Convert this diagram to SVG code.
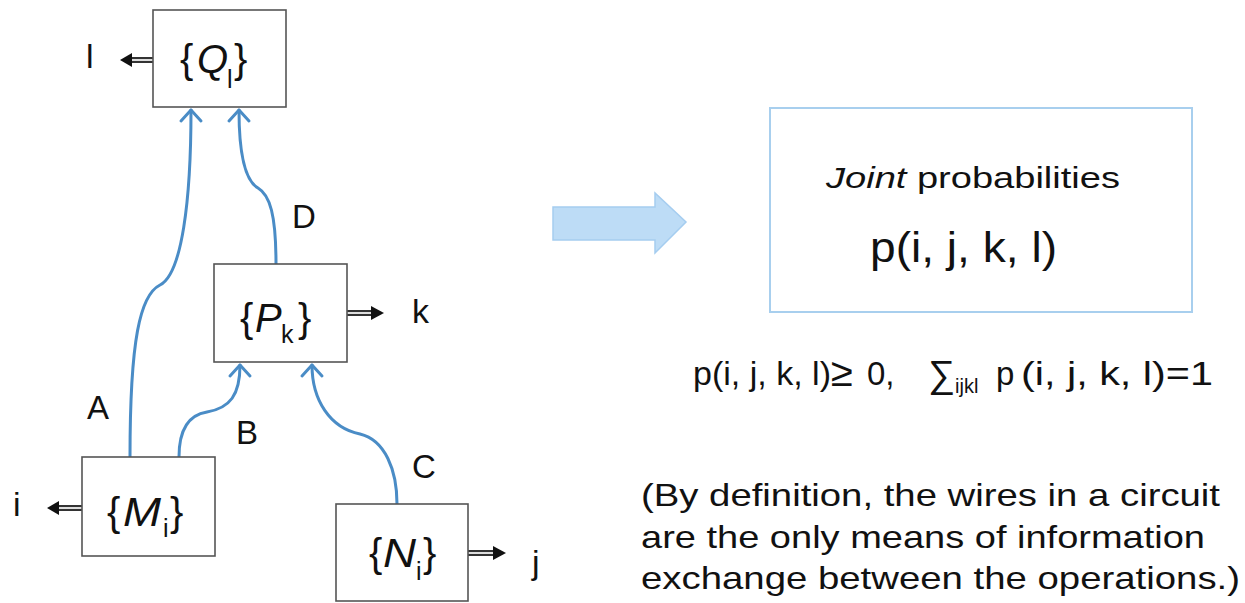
<svg xmlns="http://www.w3.org/2000/svg" width="1245" height="603" viewBox="0 0 1245 603">
<style>
text{font-family:"Liberation Sans",Arial,sans-serif;fill:#111}
.box{fill:#fff;stroke:#555;stroke-width:1.6}
.lbl{font-size:40px}
.sub{font-size:25px}
.wl{font-size:33px}
.io{font-size:34px}
.fm{font-size:33px}
.wire{fill:none;stroke:#4a8cc6;stroke-width:3;stroke-linecap:round}
.outer{stroke:#333;stroke-width:6}
.inner{stroke:#ddd;stroke-width:2}
.head{fill:#111}
</style>
<defs>
<marker id="ah" markerUnits="userSpaceOnUse" markerWidth="30" markerHeight="30" viewBox="-15 -15 30 30" refX="0" refY="0" orient="auto">
<path d="M-11,-10 L0,0 L-11,10" fill="none" stroke="#4a8cc6" stroke-width="3" stroke-linecap="round" stroke-linejoin="round"/>
</marker>
</defs>

<g id="connectors">
<path class="wire" d="M130,457 C130,340 140,295 160,285 C182,274 191,200 191,110" marker-end="url(#ah)"/>
<path class="wire" d="M276,264 C276,215 270,195 258,188 C244,180 239,150 239,110" marker-end="url(#ah)"/>
<path class="wire" d="M179,457 C179,430 188,415 207,412 C230,408 240,395 240,365" marker-end="url(#ah)"/>
<path class="wire" d="M397,504 C397,470 385,440 360,434 C330,428 312,400 312,365" marker-end="url(#ah)"/>
<line class="outer" x1="153" y1="60" x2="131" y2="60"/><line class="inner" x1="153" y1="60" x2="131" y2="60"/>
<polygon class="head" points="120,60 132,53 132,67"/>
<line class="outer" x1="82" y1="508" x2="58" y2="508"/><line class="inner" x1="82" y1="508" x2="58" y2="508"/>
<polygon class="head" points="47,508 59,501 59,515"/>
<line class="outer" x1="347" y1="313" x2="372" y2="313"/><line class="inner" x1="347" y1="313" x2="372" y2="313"/>
<polygon class="head" points="384,313 371,306 371,320"/>
<line class="outer" x1="468" y1="553" x2="494" y2="553"/><line class="inner" x1="468" y1="553" x2="494" y2="553"/>
<polygon class="head" points="506,553 493,546 493,560"/>
<text class="wl" x="87" y="419">A</text>
<text class="wl" x="236" y="444">B</text>
<text class="wl" x="412" y="478">C</text>
<text class="wl" x="292" y="228">D</text>
<text class="io" x="86" y="68">l</text>
<text class="io" x="412" y="323">k</text>
<text class="io" x="13" y="516">i</text>
<text class="io" x="532" y="574">j</text>
</g>

<g id="node-Q">
<rect class="box" x="153" y="10" width="133" height="97"/>
<text class="lbl" x="180" y="73">{</text>
<text class="lbl" x="197" y="73" font-style="italic">Q</text>
<text class="sub" x="227" y="88">l</text>
<text class="lbl" x="234" y="73">}</text>
</g>

<g id="node-P">
<rect class="box" x="214" y="264" width="133" height="98"/>
<text class="lbl" x="240" y="332">{</text>
<text class="lbl" x="255" y="332" font-style="italic">P</text>
<text class="sub" x="281" y="343">k</text>
<text class="lbl" x="298" y="332">}</text>
</g>

<g id="node-M">
<rect class="box" x="82" y="457" width="133" height="99"/>
<text class="lbl" x="107" y="526">{</text>
<text class="lbl" x="123" y="526" font-style="italic" textLength="38" lengthAdjust="spacingAndGlyphs">M</text>
<text class="sub" x="163" y="537">i</text>
<text class="lbl" x="170" y="526">}</text>
</g>

<g id="node-N">
<rect class="box" x="336" y="504" width="132" height="97"/>
<text class="lbl" x="369" y="567">{</text>
<text class="lbl" x="383" y="567" font-style="italic" textLength="33" lengthAdjust="spacingAndGlyphs">N</text>
<text class="sub" x="416" y="580">i</text>
<text class="lbl" x="423" y="567">}</text>
</g>

<g id="big-arrow">
<polygon points="553,207 655,207 655,193 686,222 655,253 655,240 553,240" fill="#bddcf6" stroke="#a5cdf0" stroke-width="1.5"/>
</g>

<g id="node-joint">
<rect x="770" y="108" width="422" height="204" fill="#fff" stroke="#a8cfee" stroke-width="2"/>
<text x="826" y="188" font-size="30" textLength="294" lengthAdjust="spacingAndGlyphs"><tspan font-style="italic">Joint</tspan> probabilities</text>
<text x="870" y="262" font-size="42" textLength="187" lengthAdjust="spacingAndGlyphs">p(i, j, k, l)</text>
</g>

<g id="formula">
<text class="fm" x="693" y="385" textLength="138" lengthAdjust="spacingAndGlyphs">p(i, j, k, l)</text>
<text x="831" y="386" font-size="40" fill="#333">≥</text>
<text class="fm" x="867" y="385">0,</text>
<text x="928" y="387" font-size="38">∑</text>
<text x="955" y="393" font-size="20">ijkl</text>
<text class="fm" x="996" y="385">p</text>
<text class="fm" x="1021" y="385" textLength="192" lengthAdjust="spacingAndGlyphs">(i, j, k, l)=1</text>
</g>

<g id="note">
<text x="641" y="506" font-size="32" textLength="579" lengthAdjust="spacingAndGlyphs">(By definition, the wires in a circuit</text>
<text x="641" y="548" font-size="32" textLength="564" lengthAdjust="spacingAndGlyphs">are the only means of information</text>
<text x="641" y="589" font-size="32" textLength="599" lengthAdjust="spacingAndGlyphs">exchange between the operations.)</text>
</g>
</svg>
